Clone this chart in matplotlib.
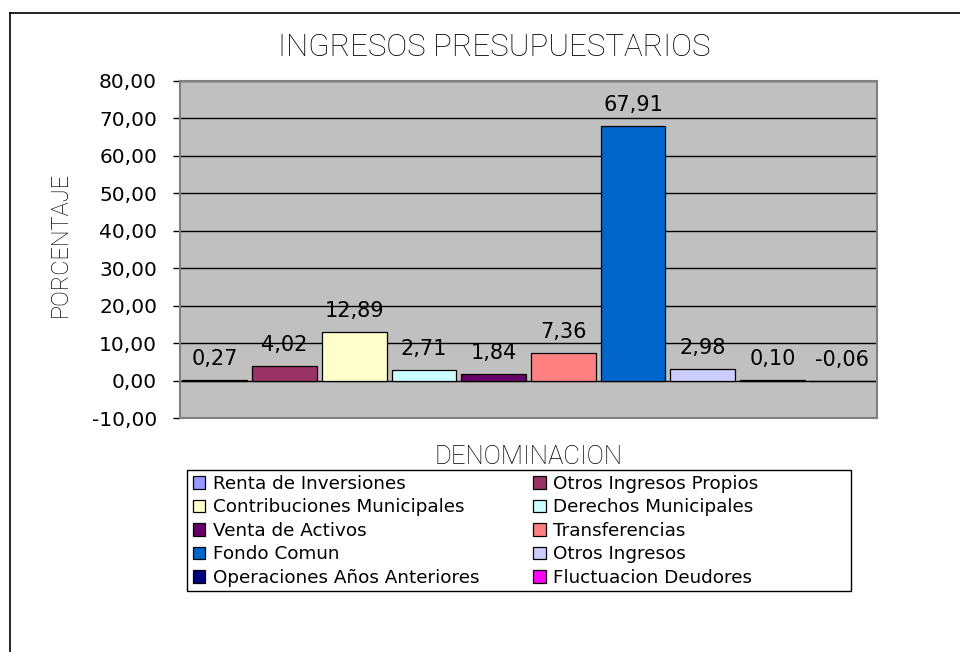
import matplotlib
matplotlib.use("Agg")
import matplotlib.pyplot as plt
from matplotlib.lines import Line2D
from matplotlib.patches import Rectangle
from matplotlib.ticker import FuncFormatter, MultipleLocator

# Data
categories = ["Renta de Inversiones", "Otros Ingresos Propios", "Contribuciones Municipales",
              "Derechos Municipales", "Venta de Activos", "Transferencias", "Fondo Comun",
              "Otros Ingresos", "Operaciones Años Anteriores", "Fluctuacion Deudores"]
values = [0.27, 4.02, 12.89, 2.71, 1.84, 7.36, 67.91, 2.98, 0.10, -0.06]
colors = ["#9999FF", "#993366", "#FFFFCC", "#CCFFFF", "#660066",
          "#FF8080", "#0066CC", "#CCCCFF", "#000080", "#FF00FF"]

W, H = 960, 652
fig = plt.figure(figsize=(W / 100, H / 100), dpi=100)

def fx(px):
    return px / W

def fy(py):
    return 1 - py / H

# Plot area
ax = fig.add_axes([fx(180), fy(418), fx(877) - fx(180), fy(81) - fy(418)])
ax.set_facecolor("#C0C0C0")

handles = []
for i, (name, v, c) in enumerate(zip(categories, values, colors)):
    b = ax.bar(i, v, width=0.93, color=c, edgecolor="black", linewidth=0.9, label=name, zorder=3)
    handles.append(b)
    txt = f"{v:.2f}".replace(".", ",")
    ax.annotate(txt, (i, max(v, 0)), xytext=(0, 21), textcoords="offset pixels",
                ha="center", va="center", fontsize=15, family="DejaVu Sans", zorder=4)

ax.set_xlim(-0.5, len(values) - 0.5)
ax.set_ylim(-10, 80)
ax.yaxis.set_major_locator(MultipleLocator(10))
ax.yaxis.set_major_formatter(FuncFormatter(lambda y, p: f"{y:.2f}".replace(".", ",")))
ax.grid(axis="y", color="black", linewidth=1.0, zorder=1)
ax.set_axisbelow(True)
ax.set_xticks([])
ax.tick_params(axis="y", direction="out", length=5, width=1, pad=11.5, labelsize=14.5)
for s in ax.spines.values():
    s.set_color("#808080")
    s.set_linewidth(1.5)

# Titles
fig.text(fx(494), fy(48), "INGRESOS PRESUPUESTARIOS", ha="center", va="center",
         fontsize=22.5, family="Roboto", fontweight="light")
fig.text(fx(60), fy(244), "PORCENTAJE", ha="center", va="center", rotation=90,
         fontsize=17, family="Roboto", fontweight="light")
fig.text(fx(529), fy(457), "DENOMINACION", ha="center", va="center",
         fontsize=18.5, family="Roboto", fontweight="light")

# Legend, filled row by row like the original
order = [0, 2, 4, 6, 8, 1, 3, 5, 7, 9]
leg = fig.legend([handles[k] for k in order], [categories[k] for k in order],
                 ncol=2, loc="upper left", bbox_to_anchor=(fx(190), fy(472)),
                 frameon=False, fontsize=13.2, handlelength=0.68, handleheight=0.68,
                 handletextpad=0.4, columnspacing=2.95, labelspacing=0.3,
                 borderpad=0.15, borderaxespad=0)
fig.add_artist(Rectangle((fx(187), fy(591)), fx(851) - fx(187), fy(470) - fy(591),
                         transform=fig.transFigure, fill=False, edgecolor="black", linewidth=1))

# Outer chart border (cut off at right and bottom)
fig.add_artist(Line2D([fx(10), fx(10)], [0, fy(13)], color="black", linewidth=1.2))
fig.add_artist(Line2D([fx(10), 1], [fy(13), fy(13)], color="black", linewidth=1.2))

fig.savefig("out.png", dpi=100)
